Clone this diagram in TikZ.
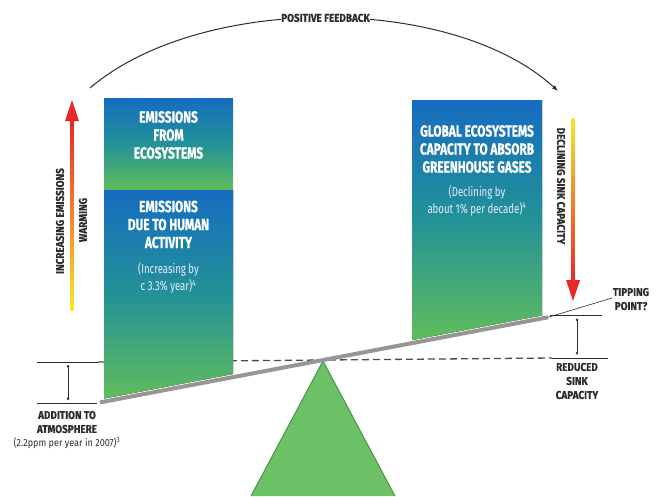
\documentclass[tikz,border=0pt]{standalone}
\usepackage{fontspec}
\newfontfamily\cnd[FakeStretch=0.74, BoldFeatures={FakeBold=0.8}]{Fira Sans}
\newfontfamily\lblf[FakeStretch=0.88, BoldFeatures={FakeBold=0.5}]{Fira Sans}
\usetikzlibrary{arrows.meta}
\definecolor{boxblue}{RGB}{22,108,192}
\definecolor{boxteal}{RGB}{34,146,150}
\definecolor{boxgreen}{RGB}{98,188,92}
\definecolor{txt}{RGB}{45,45,45}
\definecolor{trifill}{RGB}{108,192,102}
\definecolor{tridraw}{RGB}{72,150,70}
\definecolor{arred}{RGB}{232,40,40}
\definecolor{arorange}{RGB}{245,130,40}
\definecolor{aryellow}{RGB}{250,230,40}
\definecolor{beamgray}{RGB}{150,150,150}
\tikzset{
  boxtitle/.style={text=white, font=\cnd\bfseries\fontsize{16}{18}\selectfont, align=center, inner sep=0pt},
  boxsub/.style={text=white!92!blue, font=\cnd\fontsize{13}{17}\selectfont, align=center, inner sep=0pt},
  lbl/.style={text=txt, font=\lblf\bfseries\fontsize{11.3}{14}\selectfont, align=center, inner sep=0pt},
  lblsub/.style={text=txt, font=\lblf\fontsize{10.3}{13}\selectfont, align=center, inner sep=0pt},
  thinline/.style={draw=txt, line width=0.6pt},
  dotends/.style={thinline, {Circle[length=2.6pt]}-{Circle[length=2.6pt]}},
  shade3/.style={top color=boxblue, bottom color=boxgreen, middle color=boxteal}
}
\begin{document}
\begin{tikzpicture}[x=1pt,y=-1pt]
\useasboundingbox (0,0) rectangle (658,496);

% pivot triangle
\fill[trifill] (323,361) -- (251,496) -- (395,496) -- cycle;
\draw[tridraw, line width=1pt] (251,496) -- (323,361) -- (395,496);

% dashed reference line
\draw[draw=txt!85, line width=1.3pt, dash pattern=on 7pt off 4pt] (98,362) coordinate (dl) -- (552,358) coordinate (dr);
\draw[thinline] (dr) -- (608,358) coordinate (rl);

% boxes
\fill[shade3] (104,98) rectangle (233,190);
\fill[shade3] (104,190) -- (233,190) -- (233,374) -- (104,398.6) -- cycle;
\fill[shade3] (412,100) -- (542,100) -- (542,315.4) -- (412,340.1) -- cycle;

% beam
\draw[beamgray, line width=4pt] (100,402.4) coordinate (bl) -- (548,317.3) coordinate (br);

% box texts
\node[boxtitle] (eco) at (168.5,135) {EMISSIONS\\FROM\\ECOSYSTEMS};
\node[boxtitle] (hum) at (168.5,224.5) {EMISSIONS\\DUE TO HUMAN\\ACTIVITY};
\node[boxsub] (humsub) at (168.5,278) {(Increasing by\\c 3.3\% year)\textsuperscript{4}};
\node[boxtitle] (glob) at (477,149) {GLOBAL ECOSYSTEMS\\CAPACITY TO ABSORB\\GREENHOUSE GASES};
\node[boxsub] (globsub) at (477,200.5) {(Declining by\\about 1\% per decade)\textsuperscript{4}};

% positive feedback arc
\coordinate (fbs) at (90,88);
\coordinate (fbe) at (558,91);
\draw[draw=txt, line width=1pt, -{Latex[length=6pt,width=4.5pt]}] (fbs) .. controls (200,-6) and (452,-6) .. (fbe)
  node[pos=0.5, fill=white, inner xsep=5pt, inner ysep=1pt, lbl] (fb) {POSITIVE FEEDBACK};

% left gradient arrow
\shade[bottom color=aryellow, top color=arred, middle color=arorange] (70.5,119) rectangle (73.5,310);
\fill[arred] (65,121) -- (79,121) -- (72,100) -- cycle;
\node[lbl, rotate=90] (inc) at (60,221) {INCREASING EMISSIONS};
\node[lbl, rotate=90] (warm) at (83,220) {WARMING};

% right gradient arrow
\shade[top color=aryellow, bottom color=arred, middle color=arorange] (571.5,118) rectangle (574.5,282);
\fill[arred] (566,280) -- (580,280) -- (573,301) -- cycle;
\node[lbl, rotate=-90] (decl) at (561,186) {DECLINING SINK CAPACITY};

% left bracket
\draw[thinline] (37,362) -- (dl);
\draw[thinline] (37,403) -- (97,403);
\draw[dotends] (68,365) -- (68,400);
\node[lbl] (add) at (67,422) {ADDITION TO\\ATMOSPHERE};
\node[lblsub] (addsub) at (67,443) {(2.2ppm per year in 2007)\textsuperscript{3}};

% right bracket
\draw[thinline] (550,315) -- (602,315);
\draw[thinline] (br) -- (612,298);
\draw[dotends] (577,318.5) -- (577,354.5);
\node[lbl] (tip) at (631,299) {TIPPING\\POINT?};
\node[lbl] (red) at (577,381) {REDUCED\\SINK\\CAPACITY};
\end{tikzpicture}
\end{document}
